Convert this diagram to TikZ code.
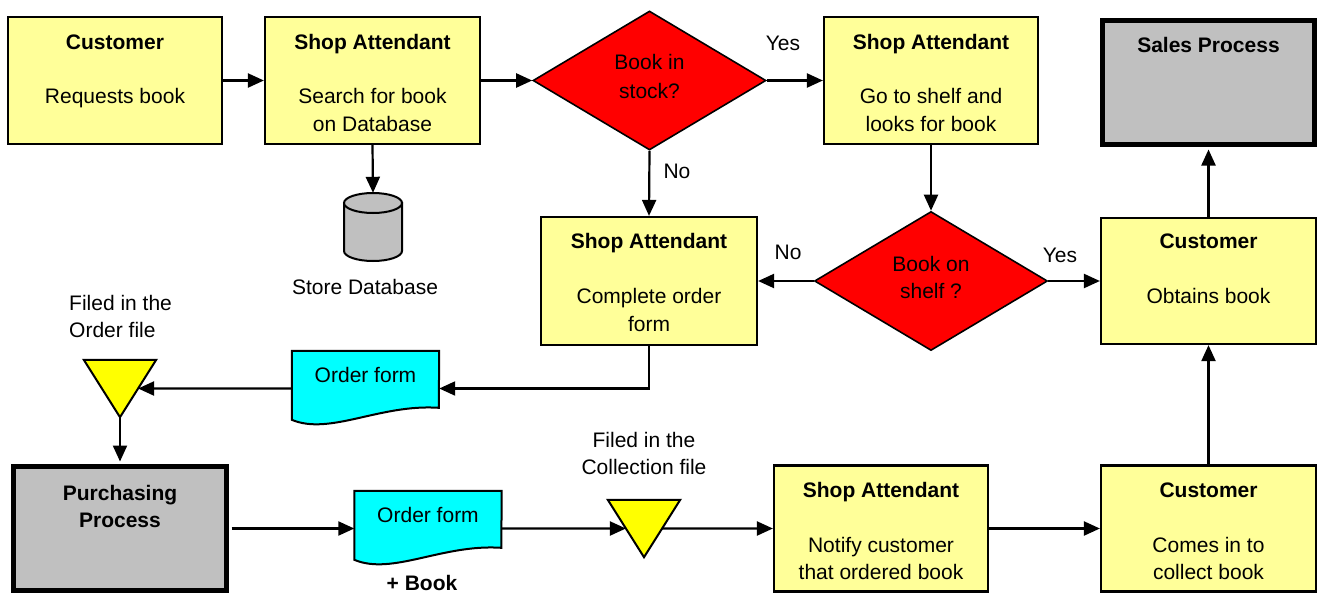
\documentclass[tikz,border=0pt]{standalone}
\usepackage{fontspec}
\setmainfont{Liberation Sans}
\usetikzlibrary{shapes.geometric,arrows.meta,calc}
\definecolor{boxy}{HTML}{FFFF99}
\definecolor{triy}{HTML}{FFFF00}
\definecolor{procgray}{HTML}{C0C0C0}
\definecolor{formcyan}{HTML}{00FFFF}
\definecolor{decred}{HTML}{FF0000}
\newcommand\docshape[1]{\filldraw[fill=formcyan,line width=2pt] (#1.north west) -- (#1.north east) -- ($(#1.north west)+(147,-57)$) .. controls ($(#1.north west)+(88,-53)$) and ($(#1.north west)+(38,-85)$) .. ($(#1.north west)+(0,-69)$) -- cycle;}
\newcommand\trishape[1]{\filldraw[fill=triy,line width=2pt] (#1.north west) -- (#1.north east) -- (#1.south) -- cycle;}
\begin{document}
\begin{tikzpicture}[x=1pt,y=1pt,
  every node/.style={font=\fontsize{21}{28}\selectfont, inner sep=0pt},
  box/.style={draw, line width=2.2pt, fill=boxy, rectangle},
  proc/.style={draw, line width=5pt, fill=procgray, rectangle},
  decision/.style={draw, line width=1.6pt, fill=decred, diamond, minimum width=233, minimum height=139},
  ghost/.style={draw=none, rectangle},
  arr/.style={line width=2.2pt, -{Triangle[length=16pt,width=14pt]}},
  txt/.style={anchor=base},
  ttl/.style={anchor=base, font=\fontsize{21}{28}\selectfont\bfseries},
]
\useasboundingbox (0,0) rectangle (1319,-594);

% ---- shapes ----
\node[box, minimum width=214, minimum height=127] (cust1) at (115,-80.5) {};
\node[box, minimum width=215, minimum height=127] (sa1) at (372.5,-80.5) {};
\node[decision] (d1) at (649.5,-80.5) {};
\node[box, minimum width=214, minimum height=127] (sa2) at (931,-80.5) {};
\node[proc, minimum width=212, minimum height=124] (sales) at (1208.5,-82.5) {};

\node[ghost, minimum width=58, minimum height=68] (db) at (373,-227) {};
\filldraw[fill=procgray, line width=2pt] (344,-203) -- (344,-251) arc (180:360:29 and 10) -- (402,-203) -- cycle;
\filldraw[fill=procgray, line width=2pt] (373,-203) ellipse [x radius=29, y radius=10];

\node[box, minimum width=216, minimum height=128] (sa3) at (649,-281) {};
\node[decision] (d2) at (931,-281) {};
\node[box, minimum width=215, minimum height=126] (cust2) at (1208.5,-281) {};

\node[ghost, minimum width=147, minimum height=75] (of1) at (365.5,-388.5) {};
\docshape{of1}
\node[ghost, minimum width=72, minimum height=57] (tri1) at (120,-388.5) {};
\trishape{tri1}
\coordinate (tri1in) at ($(tri1.north east)!0.5!(tri1.south)$);

\node[proc, minimum width=213, minimum height=124] (pp) at (120,-528.5) {};
\node[ghost, minimum width=147, minimum height=75] (of2) at (428,-528.5) {};
\docshape{of2}
\node[ghost, minimum width=72, minimum height=57] (tri2) at (644,-528.5) {};
\trishape{tri2}
\coordinate (tri2in) at ($(tri2.north west)!0.5!(tri2.south)$);
\coordinate (tri2out) at ($(tri2.north east)!0.5!(tri2.south)$);

\node[box, minimum width=214, minimum height=126] (sa4) at (881,-528.5) {};
\node[box, minimum width=215, minimum height=126] (cust3) at (1208.5,-528.5) {};

% ---- connectors ----
\draw[arr] (cust1.east) -- (sa1.west);
\draw[arr] (sa1.east) -- (d1.west);
\draw[arr] (d1.east) -- (sa2.west);
\draw[arr] (d1.south) -- (sa3.north);
\draw[arr] (sa1.south) -- (db.north);
\draw[arr] (sa2.south) -- (d2.north);
\draw[arr] (d2.west) -- (sa3.east);
\draw[arr] (d2.east) -- (cust2.west);
\draw[arr, shorten >=2.5pt] (cust2.north) -- (sales.south);
\draw[arr] (sa3.south) |- (of1.east);
\draw[arr] (of1.west) -- (tri1in);
\draw[arr, shorten >=2.5pt] (tri1.south) -- (pp.north);
\draw[arr, shorten <=2.5pt] (pp.east) -- (of2.west);
\draw[arr] (of2.east) -- (tri2in);
\draw[arr] (tri2out) -- (sa4.west);
\draw[arr] (sa4.east) -- (cust3.west);
\draw[arr] (cust3.north) -- (cust2.south);

% ---- texts ----
\node[ttl] (c1t) at (115,-49.5) {Customer};
\node[txt] (c1b) at (115,-103.5) {Requests book};

\node[ttl] (s1t) at (372.5,-49.5) {Shop Attendant};
\node[txt] (s1b) at (372.5,-103.5) {Search for book};
\node[txt] (s1c) at (372.5,-131.5) {on Database};

\node[txt] (d1a) at (649.5,-69.5) {Book in};
\node[txt] (d1b) at (649.5,-98.5) {stock?};

\node[ttl] (s2t) at (931,-49.5) {Shop Attendant};
\node[txt] (s2b) at (931,-103.5) {Go to shelf and};
\node[txt] (s2c) at (931,-131.5) {looks for book};

\node[ttl] (salest) at (1208.5,-52.5) {Sales Process};

\node[txt] (yes1) at (783,-50.5) {Yes};
\node[txt] (no1) at (677,-178.5) {No};
\node[txt] (no2) at (788,-259.5) {No};
\node[txt] (yes2) at (1060,-262.5) {Yes};

\node[txt] (dbl) at (365,-294.5) {Store Database};

\node[ttl] (s3t) at (649,-248.5) {Shop Attendant};
\node[txt] (s3b) at (649,-303.5) {Complete order};
\node[txt] (s3c) at (649,-331.5) {form};

\node[txt] (d2a) at (931,-271.5) {Book on};
\node[txt] (d2b) at (931,-298.5) {shelf ?};

\node[ttl] (c2t) at (1208.5,-248.5) {Customer};
\node[txt] (c2b) at (1208.5,-303.5) {Obtains book};

\node[txt, anchor=base west] (f1a) at (69,-310.5) {Filed in the};
\node[txt, anchor=base west] (f1b) at (69,-337.5) {Order file};

\node[txt] (of1t) at (365.5,-382.5) {Order form};

\node[ttl] (ppa) at (120,-500.5) {Purchasing};
\node[ttl] (ppb) at (120,-527.5) {Process};

\node[txt] (of2t) at (428,-522.5) {Order form};
\node[ttl] (plusbook) at (422,-590) {+ Book};

\node[txt] (f2a) at (644,-447.5) {Filed in the};
\node[txt] (f2b) at (644,-474.5) {Collection file};

\node[ttl] (s4t) at (881,-497.5) {Shop Attendant};
\node[txt] (s4b) at (881,-552.5) {Notify customer};
\node[txt] (s4c) at (881,-579.5) {that ordered book};

\node[ttl] (c3t) at (1208.5,-497.5) {Customer};
\node[txt] (c3b) at (1208.5,-552.5) {Comes in to};
\node[txt] (c3c) at (1208.5,-579.5) {collect book};
\end{tikzpicture}
\end{document}
